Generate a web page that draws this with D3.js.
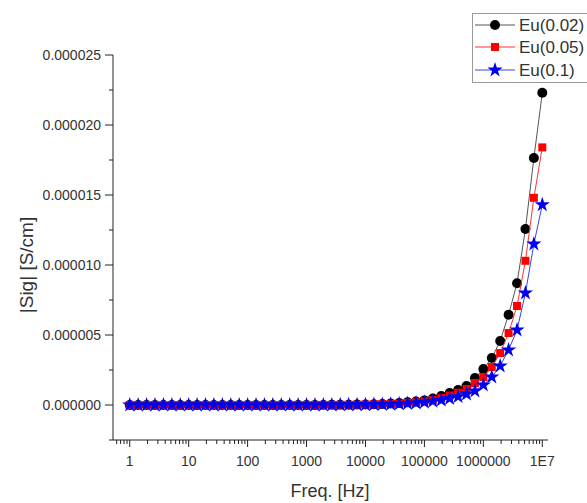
<!DOCTYPE html>
<html>
<head>
<meta charset="utf-8">
<script src="https://cdn.jsdelivr.net/npm/d3@7"></script>
<style>
  body { margin: 0; background: #fff; }
  svg { font-family: Arial, "Liberation Sans", sans-serif; }
</style>
</head>
<body>
<svg id="chart" width="587" height="503"></svg>
<script>
// sweep frequencies, 7 points per decade (Hz)
var freqs = [
    1, 1.39, 1.93, 2.68, 3.73, 5.18, 7.20,
    10, 13.9, 19.3, 26.8, 37.3, 51.8, 72.0,
    100, 139, 193, 268, 373, 518, 720,
    1000, 1390, 1930, 2680, 3730, 5180, 7200,
    10000, 13900, 19300, 26800, 37300, 51800, 72000,
    100000, 139000, 193000, 268000, 373000, 518000, 720000,
    1000000, 1390000, 1930000, 2680000, 3730000, 5180000, 7200000,
    10000000
];

// |Sig|, in micro S/cm
var sigEu002 = [
    0, 0, 0, 0, 0, 0, 0,
    0, 0, 0, 0, 0, 0, 0,
    0.001, 0.001, 0.001, 0.002, 0.002, 0.003, 0.004,
    0.005, 0.007, 0.009, 0.012, 0.016, 0.021, 0.029,
    0.040, 0.055, 0.075, 0.10, 0.14, 0.19, 0.25,
    0.33, 0.47, 0.64, 0.86, 1.07, 1.36, 1.93,
    2.57, 3.36, 4.57, 6.45, 8.70, 12.57, 17.64,
    22.30
];
var sigEu005 = [
    0, 0, 0, 0, 0, 0, 0,
    0, 0, 0, 0, 0, 0, 0,
    0.001, 0.001, 0.001, 0.001, 0.002, 0.002, 0.003,
    0.004, 0.005, 0.007, 0.009, 0.012, 0.017, 0.023,
    0.031, 0.043, 0.058, 0.08, 0.11, 0.15, 0.20,
    0.27, 0.36, 0.50, 0.68, 0.88, 1.15, 1.57,
    2.00, 2.71, 3.71, 5.14, 7.07, 10.3, 14.8,
    18.4
];
var sigEu01 = [
    0, 0, 0, 0, 0, 0, 0,
    0, 0, 0, 0, 0, 0, 0,
    0.001, 0.001, 0.001, 0.001, 0.001, 0.002, 0.002,
    0.003, 0.004, 0.005, 0.007, 0.009, 0.012, 0.017,
    0.023, 0.032, 0.044, 0.06, 0.08, 0.11, 0.15,
    0.20, 0.27, 0.35, 0.46, 0.60, 0.78, 1.00,
    1.43, 2.00, 2.79, 3.93, 5.36, 8.00, 11.5,
    14.3
];

var seriesNames = ["Eu(0.02)", "Eu(0.05)", "Eu(0.1)"];
var xTickValues = [1, 10, 100, 1000, 10000, 100000, 1000000, 10000000];
var xTickLabels = ["1", "10", "100", "1000", "10000", "100000", "1000000", "1E7"];
var yTickValues = [0, 0.000005, 0.00001, 0.000015, 0.00002, 0.000025];

var styles = [
    { marker: d3.symbolCircle, size: 78, fill: "#000", line: "#555" },
    { marker: d3.symbolSquare, size: 64, fill: "#f00", line: "#f33" },
    { marker: d3.symbolStar, size: 72, fill: "#0000f0", line: "#3344ee" }
];

var svg = d3.select("#chart");

var x = d3.scaleLog()
    .domain([0.52, 1.25e7])
    .range([113, 548]);

var y = d3.scaleLinear()
    .domain([-0.0000025, 0.000025])
    .range([440, 55]);

var textColor = "#333";

// x axis
var gx = svg.append("g");
gx.append("line")
    .attr("x1", x.range()[0]).attr("x2", x.range()[1])
    .attr("y1", 440).attr("y2", 440)
    .attr("stroke", "#222");

var minorX = [];
for (var d = -1; d <= 7; d++) {
    for (var m = 2; m <= 9; m++) {
        var v = m * Math.pow(10, d);
        if (v >= x.domain()[0] && v <= x.domain()[1]) minorX.push(v);
    }
}
gx.selectAll(".minor").data(minorX).enter().append("line")
    .attr("x1", function (d) { return x(d); })
    .attr("x2", function (d) { return x(d); })
    .attr("y1", 440).attr("y2", 444)
    .attr("stroke", "#222");
gx.selectAll(".major").data(xTickValues).enter().append("line")
    .attr("x1", function (d) { return x(d); })
    .attr("x2", function (d) { return x(d); })
    .attr("y1", 440).attr("y2", 447)
    .attr("stroke", "#222");
gx.selectAll("text").data(xTickValues).enter().append("text")
    .attr("x", function (d) { return x(d); })
    .attr("y", 466)
    .attr("text-anchor", "middle")
    .attr("font-size", 14)
    .attr("fill", textColor)
    .text(function (d, i) { return xTickLabels[i]; });

// y axis
var gy = svg.append("g");
gy.append("line")
    .attr("x1", 113).attr("x2", 113)
    .attr("y1", y.range()[0]).attr("y2", y.range()[1])
    .attr("stroke", "#222");
var minorY = [-0.0000025, 0.0000025, 0.0000075, 0.0000125, 0.0000175, 0.0000225];
gy.selectAll(".minor").data(minorY).enter().append("line")
    .attr("x1", 109).attr("x2", 113)
    .attr("y1", function (d) { return y(d); })
    .attr("y2", function (d) { return y(d); })
    .attr("stroke", "#222");
gy.selectAll(".major").data(yTickValues).enter().append("line")
    .attr("x1", 105).attr("x2", 113)
    .attr("y1", function (d) { return y(d); })
    .attr("y2", function (d) { return y(d); })
    .attr("stroke", "#222");
gy.selectAll("text").data(yTickValues).enter().append("text")
    .attr("x", 101)
    .attr("y", function (d) { return y(d) + 5; })
    .attr("text-anchor", "end")
    .attr("font-size", 14)
    .attr("fill", textColor)
    .text(d3.format(".6f"));

// axis titles
svg.append("text")
    .attr("x", 330).attr("y", 497)
    .attr("text-anchor", "middle")
    .attr("font-size", 18)
    .attr("fill", textColor)
    .text("Freq. [Hz]");
svg.append("text")
    .attr("transform", "translate(33,265) rotate(-90)")
    .attr("text-anchor", "middle")
    .attr("font-size", 19)
    .attr("fill", textColor)
    .text("|Sig| [S/cm]");

// series, drawn in order so the stars end up on top
var allSeries = [sigEu002, sigEu005, sigEu01];
var line = d3.line()
    .x(function (d) { return x(d[0]); })
    .y(function (d) { return y(d[1] * 1e-6); });

allSeries.forEach(function (vals, s) {
    var pts = freqs.map(function (f, i) { return [f, vals[i]]; });
    var st = styles[s];
    var g = svg.append("g");
    g.append("path")
        .datum(pts)
        .attr("d", line)
        .attr("fill", "none")
        .attr("stroke", st.line)
        .attr("stroke-width", 1);
    g.selectAll("path.pt").data(pts).enter().append("path")
        .attr("class", "pt")
        .attr("transform", function (d) { return "translate(" + x(d[0]) + "," + y(d[1] * 1e-6) + ")"; })
        .attr("d", d3.symbol().type(st.marker).size(st.size))
        .attr("fill", st.fill);
});

// legend
var legend = svg.append("g");
legend.append("rect")
    .attr("x", 472.5).attr("y", 13.5)
    .attr("width", 130).attr("height", 69)
    .attr("fill", "#fff")
    .attr("stroke", "#999");
var rowY = [25, 47, 70];
seriesNames.forEach(function (name, i) {
    var st = styles[i];
    legend.append("line")
        .attr("x1", 475).attr("x2", 515)
        .attr("y1", rowY[i]).attr("y2", rowY[i])
        .attr("stroke", st.line);
    legend.append("path")
        .attr("transform", "translate(495," + rowY[i] + ")")
        .attr("d", d3.symbol().type(st.marker).size(st.size))
        .attr("fill", st.fill);
    legend.append("text")
        .attr("x", 519).attr("y", rowY[i] + 6)
        .attr("font-size", 17)
        .attr("fill", textColor)
        .text(name);
});
</script>
</body>
</html>
